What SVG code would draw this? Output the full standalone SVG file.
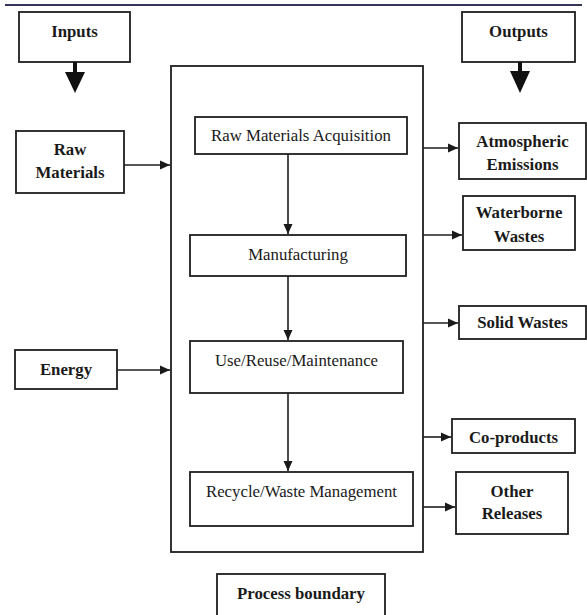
<svg xmlns="http://www.w3.org/2000/svg" width="587" height="615" viewBox="0 0 587 615">
<defs>
<marker id="ah" markerWidth="10" markerHeight="10" refX="10" refY="5" orient="auto" markerUnits="userSpaceOnUse">
<path d="M0,0.5 L10,5 L0,9.5 Z" fill="#1a1a1a"/>
</marker>
</defs>
<style>
.box{fill:#fff;stroke:#1e1e1e;stroke-width:1.8}
.b{font-family:"Liberation Serif","Times New Roman",serif;font-weight:bold;font-size:16.8px;fill:#1a1a1a;text-anchor:middle}
.r{font-family:"Liberation Serif","Times New Roman",serif;font-size:16.8px;fill:#1a1a1a;text-anchor:middle}
.c{stroke:#1e1e1e;stroke-width:1.6;fill:none;marker-end:url(#ah)}
</style>
<rect width="587" height="615" fill="#fff"/>
<line x1="5" y1="5" x2="582" y2="5" stroke="#35355a" stroke-width="2"/>

<g id="boundary"><rect class="box" x="171" y="66" width="252" height="486"/></g>

<g id="inputs"><rect class="box" x="19" y="12" width="111" height="50"/><text class="b" x="74.5" y="37">Inputs</text></g>
<g id="outputs"><rect class="box" x="462" y="12" width="113" height="50"/><text class="b" x="518.5" y="37">Outputs</text></g>

<g id="raw-materials"><rect class="box" x="16" y="131" width="108" height="62"/><text class="b" x="70" y="155">Raw</text><text class="b" x="70" y="178">Materials</text></g>
<g id="energy"><rect class="box" x="15" y="350" width="102" height="39"/><text class="b" x="66" y="375">Energy</text></g>

<g id="rma"><rect class="box" x="195" y="117" width="212" height="37"/><text class="r" x="301" y="141">Raw Materials Acquisition</text></g>
<g id="manufacturing"><rect class="box" x="190" y="235" width="216" height="41"/><text class="r" x="298" y="260">Manufacturing</text></g>
<g id="use"><rect class="box" x="190" y="341" width="213" height="52"/><text class="r" x="296.5" y="366">Use/Reuse/Maintenance</text></g>
<g id="recycle"><rect class="box" x="190" y="472" width="223" height="54"/><text class="r" x="301.5" y="497">Recycle/Waste Management</text></g>

<g id="atmospheric"><rect class="box" x="459" y="123" width="127" height="56"/><text class="b" x="522.5" y="147">Atmospheric</text><text class="b" x="522.5" y="170">Emissions</text></g>
<g id="waterborne"><rect class="box" x="463" y="196" width="112" height="54"/><text class="b" x="519" y="218">Waterborne</text><text class="b" x="519" y="242">Wastes</text></g>
<g id="solid"><rect class="box" x="459" y="306" width="127" height="33"/><text class="b" x="522.5" y="328">Solid Wastes</text></g>
<g id="coproducts"><rect class="box" x="452" y="419" width="123" height="34"/><text class="b" x="513.5" y="443">Co-products</text></g>
<g id="other"><rect class="box" x="456" y="472" width="112" height="62"/><text class="b" x="512" y="497">Other</text><text class="b" x="512" y="519">Releases</text></g>

<g id="process-boundary-label"><rect class="box" x="217" y="574" width="168" height="46"/><text class="b" x="301" y="599">Process boundary</text></g>

<g id="connectors">
<polygon points="73,62 77,62 77,72 85,72 75,93 65,72 73,72" fill="#111"/>
<polygon points="518,62 522,62 522,71 530,71 520,93 510,71 518,71" fill="#111"/>
<line class="c" x1="124" y1="165" x2="170" y2="165"/>
<line class="c" x1="117" y1="370" x2="170" y2="370"/>
<line class="c" x1="288" y1="154" x2="288" y2="234"/>
<line class="c" x1="288" y1="276" x2="288" y2="340"/>
<line class="c" x1="288" y1="393" x2="288" y2="471"/>
<line class="c" x1="423" y1="148" x2="458" y2="148"/>
<line class="c" x1="423" y1="235" x2="462" y2="235"/>
<line class="c" x1="423" y1="323" x2="458" y2="323"/>
<line class="c" x1="423" y1="437" x2="451" y2="437"/>
<line class="c" x1="423" y1="507" x2="455" y2="507"/>
</g>
</svg>
